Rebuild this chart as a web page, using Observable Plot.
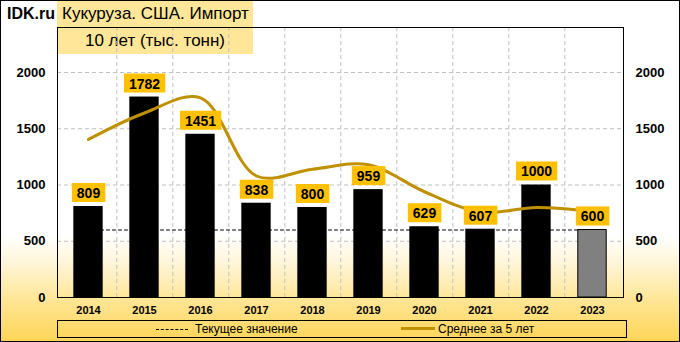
<!DOCTYPE html>
<html><head><meta charset="utf-8">
<script src="https://cdn.jsdelivr.net/npm/d3@7"></script>
<script src="https://cdn.jsdelivr.net/npm/@observablehq/plot@0.6"></script>
<style>
body{margin:0;background:#fff;}
#wrap{position:relative;width:680px;height:342px;overflow:hidden;
 background:linear-gradient(to bottom,#fff 0%,#fff 69%,#FFF4D2 78%,#FFE594 88%,#FFD556 100%);
 font-family:"Liberation Sans",Arial,sans-serif;}
#border{position:absolute;left:0;top:0;width:680px;height:342px;box-sizing:border-box;border:1px solid #000;pointer-events:none;}
.tbox{position:absolute;left:57px;width:196px;height:27px;background:#FFE699;font-size:17px;line-height:27px;color:#000;white-space:nowrap;}
#t1{top:0;padding-left:5px;box-sizing:border-box;}
#t2{top:27px;text-align:center;}
#logo{position:absolute;left:7px;top:5px;font-weight:bold;font-size:16px;}
#chart{position:absolute;left:0;top:0;}
#legend{position:absolute;left:57px;top:320px;width:570px;height:18px;box-sizing:border-box;border:1px solid #000;font-size:12px;}
#legend span{position:absolute;}
</style></head>
<body>
<div id="wrap">
 <div id="t1" class="tbox">Кукуруза. США. Импорт</div>
 <div id="t2" class="tbox">10 лет (тыс. тонн)</div>
 <div id="logo">IDK.ru</div>
 <div id="chart"></div>
 <div id="legend">
  <span style="left:98px;top:8px;width:32px;border-top:1px dashed #000;"></span>
  <span style="left:137px;top:1px;">Текущее значение</span>
  <span style="left:343px;top:6px;width:34px;height:3px;background:#BF9000;"></span>
  <span style="left:380px;top:1px;">Среднее за 5 лет</span>
 </div>
 <div id="border"></div>
</div>
<script>
const years = ["2014","2015","2016","2017","2018","2019","2020","2021","2022","2023"];
const imports = [809, 1782, 1451, 838, 800, 959, 629, 607, 1000, 600];
const avg5 = [1405, 1640, 1775, 1080, 1140, 1180, 940, 760, 800, 765];
const currentValue = 600;
const yTicks = [0, 500, 1000, 1500, 2000];

const data = years.map((y, i) => ({year: y, value: imports[i], avg: avg5[i], last: i === years.length - 1}));

const W = 680, H = 342, mL = 57, mR = 57, mT = 27, mB = 45;
const bw = (W - mL - mR) / years.length;
const inset = (bw - 30) / 2;

const chart = Plot.plot({
  width: W, height: H,
  marginLeft: mL, marginRight: mR, marginTop: mT, marginBottom: mB,
  style: {background: "transparent", fontFamily: "Liberation Sans, Arial, sans-serif", color: "#000"},
  x: {domain: years, padding: 0, label: null, axis: null},
  y: {domain: [0, 2400], label: null, axis: null},
  marks: [
    Plot.ruleY(yTicks.filter(d => d > 0), {stroke: "#bfbfbf", strokeDasharray: "4,3"}),
    Plot.ruleX(years.slice(0, -1), {x: d => d, dx: bw / 2, stroke: "#bfbfbf", strokeDasharray: "4,3"}),
    Plot.lineY(data, {x: "year", y: () => currentValue, stroke: "#000", strokeDasharray: "3,3", strokeWidth: 1}),
    Plot.barY(data.filter(d => !d.last), {x: "year", y: "value", fill: "#000", insetLeft: inset, insetRight: inset}),
    Plot.barY(data.filter(d => d.last), {x: "year", y: "value", fill: "#808080", stroke: "#000", strokeWidth: 1, insetLeft: inset + 0.5, insetRight: inset + 0.5}),
    Plot.lineY(data, {x: "year", y: "avg", stroke: "#BF9000", strokeWidth: 3, curve: "catmull-rom"}),
    Plot.text(data, {x: "year", y: "value", text: d => String(d.value), dy: -13, fontWeight: "bold", fontSize: 14, fill: "#000"}),
    Plot.frame({stroke: "#000"}),
    Plot.axisY({ticks: yTicks, tickFormat: d => String(d), anchor: "left", tickSize: 0, tickPadding: 12, fontSize: 13, fontWeight: "bold", label: null}),
    Plot.axisY({ticks: yTicks, tickFormat: d => String(d), anchor: "right", tickSize: 0, tickPadding: 12, fontSize: 13, fontWeight: "bold", label: null}),
    Plot.axisX({tickSize: 0, tickPadding: 9, fontSize: 11, fontWeight: "bold", label: null})
  ]
});
document.getElementById("chart").appendChild(chart);

// yellow boxes behind value labels
chart.querySelectorAll('g[aria-label="text"] text').forEach(t => {
  const b = t.getBBox();
  const r = document.createElementNS("http://www.w3.org/2000/svg", "rect");
  const h = 19;
  r.setAttribute("x", b.x - 5);
  r.setAttribute("y", b.y + b.height / 2 - h / 2 - 0.5);
  r.setAttribute("width", b.width + 10);
  r.setAttribute("height", h);
  r.setAttribute("fill", "#FFC000");
  if (t.getAttribute("transform")) r.setAttribute("transform", t.getAttribute("transform"));
  t.parentNode.insertBefore(r, t);
});
</script>
</body></html>
